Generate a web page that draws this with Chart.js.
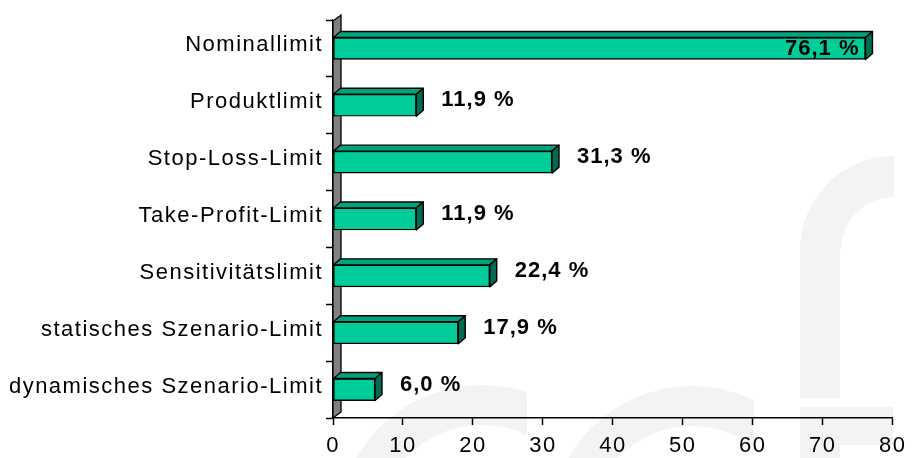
<!DOCTYPE html>
<html>
<head>
<meta charset="utf-8">
<script src="https://cdn.jsdelivr.net/npm/chart.js@4.4.0/dist/chart.umd.min.js"></script>
<style>
  html, body { margin: 0; padding: 0; background: #ffffff; }
  canvas { display: block; }
</style>
</head>
<body>
<canvas id="limitChart" width="913" height="458"></canvas>
<script>
const categories = [
    "Nominallimit",
    "Produktlimit",
    "Stop-Loss-Limit",
    "Take-Profit-Limit",
    "Sensitivitätslimit",
    "statisches Szenario-Limit",
    "dynamisches Szenario-Limit"
];
const shares = [76.1, 11.9, 31.3, 11.9, 22.4, 17.9, 6.0];
const axisTicks = [0, 10, 20, 30, 40, 50, 60, 70, 80];

const FONT = "'Liberation Sans', Arial, sans-serif";
const SPACING = "1.5px";

function formatShare(v) {
    return v.toFixed(1).replace(".", ",") + " %";
}

const spacingPlugin = {
    id: "spacing",
    beforeDraw(chart) {
        chart.ctx.letterSpacing = SPACING;
    }
};

// faint logo in the background
const watermarkPlugin = {
    id: "watermark",
    beforeDraw(chart) {
        const ctx = chart.ctx;
        ctx.save();
        ctx.fillStyle = "#f3f3f3";

        const ring = (cx, cy, ro, ri, clip) => {
            ctx.save();
            ctx.beginPath();
            ctx.rect(clip[0], clip[1], clip[2], clip[3]);
            ctx.clip();
            ctx.beginPath();
            ctx.arc(cx, cy, ro, 0, Math.PI * 2);
            ctx.arc(cx, cy, ri, 0, Math.PI * 2, true);
            ctx.fill();
            ctx.restore();
        };

        ring(482, 530, 145, 105, [0, 0, 527, 458]);
        ring(692, 528, 142, 102, [560, 0, 194, 458]);
        ring(894, 250, 94, 53, [800, 0, 94, 250]);
        ctx.fillRect(800, 249, 40, 149);
        ctx.fillRect(800, 407, 93, 38);
        ctx.fillRect(800, 445, 40, 13);
        ctx.restore();
    }
};

const wallPlugin = {
    id: "wall",
    beforeDatasetsDraw(chart) {
        const ctx = chart.ctx;
        const area = chart.chartArea;
        const dx = 8, dy = 6;
        ctx.save();
        ctx.beginPath();
        ctx.moveTo(area.left, area.bottom);
        ctx.lineTo(area.left, area.top + 1);
        ctx.lineTo(area.left + dx, area.top + 1 - dy);
        ctx.lineTo(area.left + dx, area.bottom - dy);
        ctx.closePath();
        ctx.fillStyle = "#808080";
        ctx.fill();
        ctx.strokeStyle = "#000000";
        ctx.lineWidth = 1.3;
        ctx.stroke();
        ctx.restore();
    }
};

const barDepthPlugin = {
    id: "barDepth",
    afterDatasetsDraw(chart) {
        const ctx = chart.ctx;
        const area = chart.chartArea;
        const meta = chart.getDatasetMeta(0);
        const dx = 7, dy = 6;
        ctx.save();
        ctx.lineWidth = 1.4;
        ctx.strokeStyle = "#000000";
        ctx.lineJoin = "round";
        meta.data.forEach((bar, i) => {
            const p = bar.getProps(["x", "y", "base", "height"], true);
            const top = p.y - p.height / 2;
            const bottom = p.y + p.height / 2;

            // top face
            ctx.beginPath();
            ctx.moveTo(p.base, top);
            ctx.lineTo(p.base + dx, top - dy);
            ctx.lineTo(p.x + dx, top - dy);
            ctx.lineTo(p.x, top);
            ctx.closePath();
            ctx.fillStyle = "#00a37d";
            ctx.fill();
            ctx.stroke();

            // right face
            ctx.beginPath();
            ctx.moveTo(p.x, top);
            ctx.lineTo(p.x + dx, top - dy);
            ctx.lineTo(p.x + dx, bottom - dy);
            ctx.lineTo(p.x, bottom);
            ctx.closePath();
            ctx.fillStyle = "#006b52";
            ctx.fill();
            ctx.stroke();

            // value label
            const text = formatShare(shares[i]);
            ctx.font = "bold 22px " + FONT;
            ctx.letterSpacing = "1px";
            ctx.fillStyle = "#000000";
            ctx.textBaseline = "middle";
            const w = ctx.measureText(text).width;
            if (p.x + 26 + w > area.right) {
                ctx.textAlign = "right";
                ctx.fillText(text, p.x - 6, p.y + 1);
            } else {
                ctx.textAlign = "left";
                ctx.fillText(text, p.x + 25, p.y - 5);
            }
        });
        ctx.restore();
    }
};

new Chart(document.getElementById("limitChart"), {
    type: "bar",
    data: {
        labels: categories,
        datasets: [{
            data: shares,
            backgroundColor: "#00cc99",
            borderColor: "#000000",
            borderWidth: 1.4,
            borderSkipped: false,
            barThickness: 22
        }]
    },
    options: {
        indexAxis: "y",
        responsive: false,
        animation: false,
        events: [],
        layout: {
            padding: { top: 20, right: 15, bottom: 0, left: 0 }
        },
        plugins: {
            legend: { display: false },
            tooltip: { enabled: false }
        },
        scales: {
            x: {
                min: axisTicks[0],
                max: axisTicks[axisTicks.length - 1],
                afterFit(scale) { scale.height = 40; },
                ticks: {
                    stepSize: axisTicks[1] - axisTicks[0],
                    color: "#000000",
                    padding: 8,
                    maxRotation: 0,
                    font: { family: FONT, size: 22 }
                },
                grid: {
                    drawOnChartArea: false,
                    tickLength: 7,
                    tickColor: "#000000",
                    tickWidth: 1.5
                },
                border: { color: "#000000", width: 1.5 }
            },
            y: {
                afterFit(scale) { scale.width = 333; },
                ticks: {
                    color: "#000000",
                    padding: 3,
                    labelOffset: -3,
                    font: { family: FONT, size: 22 }
                },
                grid: {
                    drawOnChartArea: false,
                    tickLength: 7,
                    tickColor: "#000000",
                    tickWidth: 1.5
                },
                border: { color: "#000000", width: 1.3 }
            }
        }
    },
    plugins: [spacingPlugin, watermarkPlugin, wallPlugin, barDepthPlugin]
});
</script>
</body>
</html>
